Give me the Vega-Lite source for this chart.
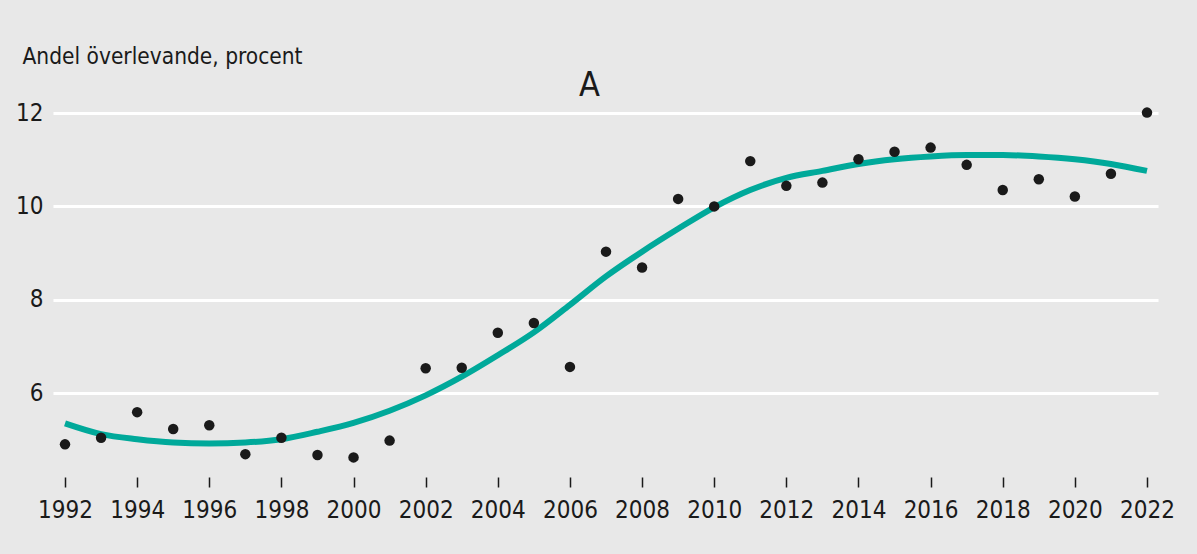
{
  "$schema": "https://vega.github.io/schema/vega-lite/v6.json",
  "width": 1105,
  "height": 377,
  "autosize": {"type": "none"},
  "padding": {"left": 53, "top": 100, "right": 39, "bottom": 77},
  "background": "#e8e8e8",
  "config": {
    "view": {"stroke": null},
    "font": "DejaVu Sans Condensed, Roboto, sans-serif"
  },
  "title": {
    "text": "A",
    "anchor": "middle",
    "dx": -16,
    "dy": 64,
    "offset": 6,
    "fontSize": 34,
    "fontWeight": 500,
    "color": "#1a1a1a",
    "font": "DejaVu Sans Condensed, Roboto, sans-serif"
  },
  "datasets": {
    "points": [
      {"year": 1992, "value": 4.90},
      {"year": 1993, "value": 5.04},
      {"year": 1994, "value": 5.59},
      {"year": 1995, "value": 5.23},
      {"year": 1996, "value": 5.31},
      {"year": 1997, "value": 4.69},
      {"year": 1998, "value": 5.04},
      {"year": 1999, "value": 4.67},
      {"year": 2000, "value": 4.62},
      {"year": 2001, "value": 4.98},
      {"year": 2002, "value": 6.53},
      {"year": 2003, "value": 6.54},
      {"year": 2004, "value": 7.29},
      {"year": 2005, "value": 7.50},
      {"year": 2006, "value": 6.56},
      {"year": 2007, "value": 9.03},
      {"year": 2008, "value": 8.69},
      {"year": 2009, "value": 10.16},
      {"year": 2010, "value": 10.00},
      {"year": 2011, "value": 10.97},
      {"year": 2012, "value": 10.44},
      {"year": 2013, "value": 10.51},
      {"year": 2014, "value": 11.01},
      {"year": 2015, "value": 11.17},
      {"year": 2016, "value": 11.26},
      {"year": 2017, "value": 10.89},
      {"year": 2018, "value": 10.35},
      {"year": 2019, "value": 10.58},
      {"year": 2020, "value": 10.21},
      {"year": 2021, "value": 10.70},
      {"year": 2022, "value": 12.01}
    ],
    "trend": [
      {"year": 1992, "fit": 5.35},
      {"year": 1993, "fit": 5.12},
      {"year": 1994, "fit": 5.01},
      {"year": 1995, "fit": 4.94},
      {"year": 1996, "fit": 4.92},
      {"year": 1997, "fit": 4.94},
      {"year": 1998, "fit": 5.01},
      {"year": 1999, "fit": 5.17},
      {"year": 2000, "fit": 5.36},
      {"year": 2001, "fit": 5.62},
      {"year": 2002, "fit": 5.95},
      {"year": 2003, "fit": 6.35},
      {"year": 2004, "fit": 6.81},
      {"year": 2005, "fit": 7.30},
      {"year": 2006, "fit": 7.89},
      {"year": 2007, "fit": 8.50},
      {"year": 2008, "fit": 9.03},
      {"year": 2009, "fit": 9.52},
      {"year": 2010, "fit": 9.98},
      {"year": 2011, "fit": 10.35},
      {"year": 2012, "fit": 10.61},
      {"year": 2013, "fit": 10.76},
      {"year": 2014, "fit": 10.91},
      {"year": 2015, "fit": 11.01},
      {"year": 2016, "fit": 11.07},
      {"year": 2017, "fit": 11.10},
      {"year": 2018, "fit": 11.10},
      {"year": 2019, "fit": 11.07},
      {"year": 2020, "fit": 11.01},
      {"year": 2021, "fit": 10.91},
      {"year": 2022, "fit": 10.76}
    ]
  },
  "layer": [
    {
      "data": {"name": "trend"},
      "mark": {"type": "line", "color": "#00a99a", "strokeWidth": 6, "interpolate": "monotone"},
      "encoding": {
        "x": {
          "field": "year", "type": "quantitative",
          "scale": {"domain": [1991.667, 2022.305], "nice": false, "zero": false},
          "axis": {
            "values": [1992,1994,1996,1998,2000,2002,2004,2006,2008,2010,2012,2014,2016,2018,2020,2022],
            "format": "d",
            "grid": false,
            "domain": false,
            "ticks": true,
            "tickSize": 10,
            "tickWidth": 1.5,
            "tickColor": "#1a1a1a",
            "labelPadding": 11,
            "labelFontSize": 24,
            "labelColor": "#1a1a1a",
            "labelFont": "DejaVu Sans Condensed, Roboto, sans-serif",
            "title": null
          }
        },
        "y": {
          "field": "fit", "type": "quantitative",
          "scale": {"domain": [4.2, 12.28], "nice": false, "zero": false},
          "axis": {
            "values": [6, 8, 10, 12],
            "grid": true,
            "gridColor": "#ffffff",
            "gridWidth": 3,
            "domain": false,
            "ticks": false,
            "labelPadding": 10,
            "labelFontSize": 24,
            "labelColor": "#1a1a1a",
            "labelFont": "DejaVu Sans Condensed, Roboto, sans-serif",
            "title": "Andel överlevande, procent",
            "titleAngle": 0,
            "titleAlign": "left",
            "titleBaseline": "alphabetic",
            "titleX": -31,
            "titleY": -37,
            "titleFontSize": 22.5,
            "titleFontWeight": "normal",
            "titleColor": "#1a1a1a",
            "titleFont": "DejaVu Sans Condensed, Roboto, sans-serif"
          }
        }
      }
    },
    {
      "data": {"name": "points"},
      "mark": {"type": "circle", "color": "#1a1a1a", "opacity": 1, "size": 110},
      "encoding": {
        "x": {"field": "year", "type": "quantitative"},
        "y": {"field": "value", "type": "quantitative"}
      }
    }
  ]
}
